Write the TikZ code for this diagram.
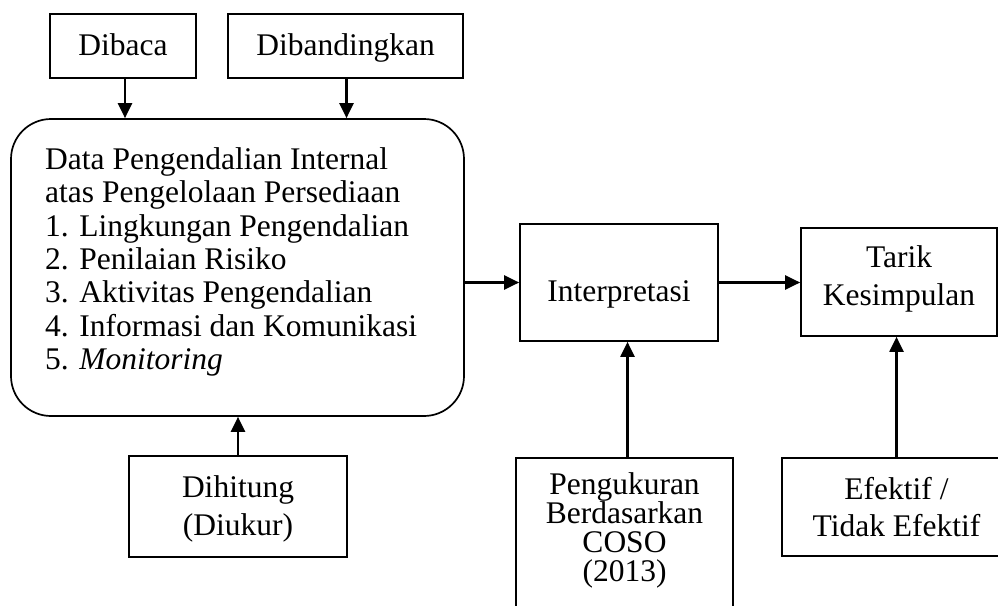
\documentclass[tikz,border=0pt]{standalone}
\usepackage{fontspec}
\setmainfont{Liberation Serif}
\usetikzlibrary{arrows.meta}
\begin{document}
\begin{tikzpicture}[x=1pt,y=-1pt,
  box/.style={draw, line width=1.7pt, inner sep=0pt},
  txt/.style={anchor=base, inner sep=0pt, font=\fontsize{31.5}{37.5}\selectfont},
  arr/.style={line width=2.2pt, -{Triangle[length=15pt,width=14pt]}}]
\useasboundingbox (0,0) rectangle (998,605);
\clip (0,0) rectangle (998,605);

% top boxes
\node[box, minimum width=146pt, minimum height=64pt] (dibaca) at (123,46) {};
\node[txt] (dibacaT) at (123,55) {Dibaca};
\node[box, minimum width=235pt, minimum height=64pt] (dibandingkan) at (345.5,46) {};
\node[txt] (dibandingkanT) at (345.5,55) {Dibandingkan};

% big rounded box
\node[box, rounded corners=40pt, minimum width=453pt, minimum height=297pt] (bigbox) at (237.5,267.5) {};
\node[anchor=base west, inner sep=0pt, font=\fontsize{31.5}{33.3}\selectfont] (bigtext) at (45,169.5)
  {\begin{tabular}[t]{@{}l@{}}Data Pengendalian Internal\\atas Pengelolaan Persediaan\\1. Lingkungan Pengendalian\\2. Penilaian Risiko\\3. Aktivitas Pengendalian\\4. Informasi dan Komunikasi\\5. \textit{Monitoring}\end{tabular}};

% Dihitung
\node[box, minimum width=218pt, minimum height=101pt] (dihitung) at (238,506.5) {};
\node[txt, font=\fontsize{31.5}{38}\selectfont] (dihitungT) at (238,497)
  {\begin{tabular}[t]{@{}c@{}}Dihitung\\(Diukur)\end{tabular}};

% Interpretasi
\node[box, minimum width=198pt, minimum height=117pt] (interp) at (619,282.5) {};
\node[txt] (interpT) at (619,301) {Interpretasi};

% Tarik Kesimpulan
\node[box, minimum width=196pt, minimum height=108pt] (tarik) at (899,282) {};
\node[txt, font=\fontsize{31.5}{38}\selectfont] (tarikT) at (899,267)
  {\begin{tabular}[t]{@{}c@{}}Tarik\\Kesimpulan\end{tabular}};

% Pengukuran (cut off at the bottom)
\node[box, minimum width=217pt, minimum height=182pt] (peng) at (624.5,549) {};
\node[txt, font=\fontsize{31.5}{29.3}\selectfont] (pengT) at (624.5,494)
  {\begin{tabular}[t]{@{}c@{}}\smash{Pengukuran}\\\smash{Berdasarkan}\\\smash{COSO}\\\smash{(2013)}\end{tabular}};

% Efektif (cut off at the right)
\node[box, minimum width=229pt, minimum height=98pt] (efektif) at (896.5,507) {};
\node[txt, font=\fontsize{31.5}{37}\selectfont] (efektifT) at (896.5,499)
  {\begin{tabular}[t]{@{}c@{}}Efektif /\\Tidak Efektif\end{tabular}};

% connectors
\draw[arr] ([xshift=2pt]dibaca.south) -- ([xshift=2pt]dibaca.south |- bigbox.north);
\draw[arr] ([xshift=1pt]dibandingkan.south) -- ([xshift=1pt]dibandingkan.south |- bigbox.north);
\draw[arr] (dihitung.north) -- (dihitung.north |- bigbox.south);
\draw[arr] (bigbox.east |- interp.west) -- (interp.west);
\draw[arr] (interp.east) -- (tarik.west |- interp.east);
\draw[arr] ([xshift=3pt]peng.north) -- ([xshift=3pt]peng.north |- interp.south);
\draw[arr] (efektif.north) -- (efektif.north |- tarik.south);
\end{tikzpicture}
\end{document}
